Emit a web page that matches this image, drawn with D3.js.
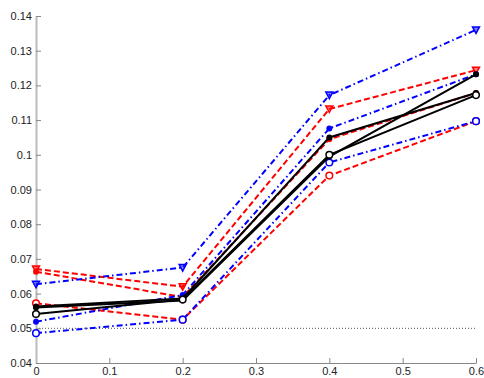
<!DOCTYPE html>
<meta charset="utf-8">
<style>
  html, body { margin:0; padding:0; background:#fff; overflow:hidden }
  .tick text { font-family: "Liberation Sans", Arial, sans-serif; font-size: 11px; fill: #222; }
</style>
<svg id="chart" width="484" height="378"></svg>
<script src="https://cdnjs.cloudflare.com/ajax/libs/d3/7.8.5/d3.min.js"></script>
<script>

    // x positions shared by all lines
    var xs = [0, 0.2, 0.4, 0.6];

    // red dashed
    var red1 = [0.0671, 0.0620, 0.1132, 0.1244];
    var red2 = [0.0663, 0.0590, 0.1045, 0.1178];
    var red3 = [0.0572, 0.0525, 0.0940, 0.1097];

    // blue dash-dot
    var blue1 = [0.0627, 0.0675, 0.1172, 0.1360];
    var blue2 = [0.0519, 0.0596, 0.1076, 0.1232];
    var blue3 = [0.0486, 0.0525, 0.0978, 0.1097];

    // black solid
    var black1 = [0.0563, 0.0586, 0.1050, 0.1178];
    var black2 = [0.0560, 0.0580, 0.0995, 0.1232];
    var black3 = [0.0541, 0.0583, 0.1000, 0.1172];

    var xTicks = [0, 0.1, 0.2, 0.3, 0.4, 0.5, 0.6];
    var yTicks = [0.04, 0.05, 0.06, 0.07, 0.08, 0.09, 0.1, 0.11, 0.12, 0.13, 0.14];
    var refLevel = 0.05;

    var series = [
        { v: red1, color: "#ff0000", dash: "6,3", marker: "v" },
        { v: red2, color: "#ff0000", dash: "6,3", marker: "dot" },
        { v: red3, color: "#ff0000", dash: "6,3", marker: "o" },
        { v: blue1, color: "#0000ff", dash: "6,3,1.5,3", marker: "v" },
        { v: blue2, color: "#0000ff", dash: "6,3,1.5,3", marker: "dot" },
        { v: blue3, color: "#0000ff", dash: "6,3,1.5,3", marker: "o" },
        { v: black1, color: "#000000", dash: null, marker: "dot" },
        { v: black2, color: "#000000", dash: null, marker: "dot" },
        { v: black3, color: "#000000", dash: null, marker: "o" }
    ];

    var svg = d3.select("#chart");

    var x = d3.scaleLinear().domain([0, 0.6]).range([36, 476]);
    var y = d3.scaleLinear().domain([0.04, 0.14]).range([363, 16]);

    // reference line
    svg.append("line")
        .attr("x1", x(0)).attr("x2", x(0.6))
        .attr("y1", y(refLevel)).attr("y2", y(refLevel))
        .attr("stroke", "#555")
        .attr("stroke-width", 1)
        .attr("stroke-dasharray", "1,2");

    // axes, ticks pointing inward
    var xAxis = svg.append("g")
        .attr("transform", "translate(0," + y(0.04) + ")")
        .call(d3.axisBottom(x).tickValues(xTicks).tickSizeInner(-5).tickSizeOuter(0).tickPadding(4)
              .tickFormat(function(d) { return d3.format("~g")(+d.toFixed(2)); }));
    xAxis.select(".domain").attr("stroke", "#888");
    xAxis.selectAll(".tick line").attr("stroke", "#888");

    var yAxis = svg.append("g")
        .attr("transform", "translate(" + x(0) + ",0)")
        .call(d3.axisLeft(y).tickValues(yTicks).tickSizeInner(-5).tickSizeOuter(0).tickPadding(4)
              .tickFormat(function(d) { return d3.format("~g")(+d.toFixed(2)); }));
    yAxis.select(".domain").attr("stroke", "#bbb").attr("stroke-width", 2);
    yAxis.selectAll(".tick line").attr("stroke", "#888");

    var line = d3.line()
        .x(function(d, i) { return x(xs[i]); })
        .y(function(d) { return y(d); });

    series.forEach(function(s) {
        svg.append("path")
            .datum(s.v)
            .attr("fill", "none")
            .attr("stroke", s.color)
            .attr("stroke-width", s.color == "#000000" ? 2 : 2)
            .attr("stroke-dasharray", s.dash)
            .attr("d", line);

        var pts = svg.append("g").selectAll("g")
            .data(s.v).enter().append("g")
            .attr("transform", function(d, i) { return "translate(" + x(xs[i]) + "," + y(d) + ")"; });

        if (s.marker == "v") {
            pts.append("path")
                .attr("d", "M-3.5,-3L3.5,-3L0,3.5Z")
                .attr("fill", s.color)
                .attr("fill-opacity", 0.5)
                .attr("stroke", s.color)
                .attr("stroke-width", 1.5);
        } else if (s.marker == "o") {
            pts.append("circle")
                .attr("r", 3.3)
                .attr("fill", "#fff")
                .attr("stroke", s.color)
                .attr("stroke-width", 1.5);
        } else {
            pts.append("circle")
                .attr("r", 3)
                .attr("fill", s.color);
        }
    });

</script>
